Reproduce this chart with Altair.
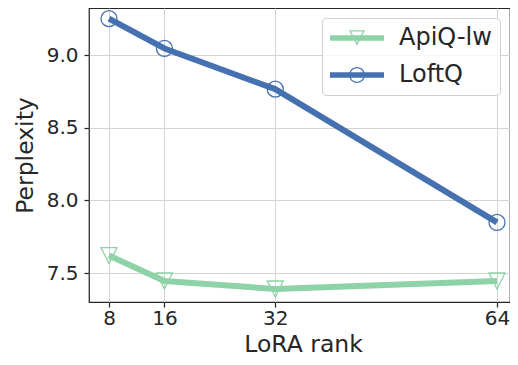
import altair as alt
import pandas as pd

ranks = [8, 16, 32, 64]
apiq_lw = [7.62, 7.445, 7.39, 7.445]
loftq = [9.25, 9.045, 8.765, 7.848]
series_names = ["ApiQ-lw", "LoftQ"]
colors = ["#8dd3a7", "#4571b0"]
x_ticks = [8, 16, 32, 64]
y_ticks = [7.5, 8.0, 8.5, 9.0]

df = pd.DataFrame({
    "rank": ranks * 2,
    "ppl": apiq_lw + loftq,
    "method": [series_names[0]] * len(ranks) + [series_names[1]] * len(ranks),
})

# legend symbols: thick line with a hollow marker on it (unit box -1..1)
leg_tri = ("M-1,-0.105L1,-0.105L1,0.105L-1,0.105Z "
           "M-0.3,-0.29L0.3,-0.29L0,0.29Z "
           "M-0.225,-0.245L0,0.18L0.225,-0.245Z")
leg_circ = ("M-1,-0.105L1,-0.105L1,0.105L-1,0.105Z "
            "M-0.296,0A0.296,0.296 0 1,1 0.296,0A0.296,0.296 0 1,1 -0.296,0Z "
            "M-0.25,0A0.25,0.25 0 1,0 0.25,0A0.25,0.25 0 1,0 -0.25,0Z")

xs = alt.X("rank:Q", scale=alt.Scale(domain=[5.1134, 65.876], nice=False, zero=False),
           axis=alt.Axis(values=x_ticks, title="LoRA rank", format="d", labelPadding=1.8,
                         titleBaseline="alphabetic", titleY=49.3, titleX=214))
ys = alt.Y("ppl:Q", scale=alt.Scale(domain=[7.3005, 9.3234], nice=False, zero=False),
           axis=alt.Axis(values=y_ticks, title="Perplexity", format=".1f", labelPadding=6,
                         titleBaseline="alphabetic", titleX=-57))
color_nolegend = alt.Color("method:N", scale=alt.Scale(domain=series_names, range=colors), legend=None)

base = alt.Chart(df)

lines = base.mark_line(strokeWidth=6, strokeJoin="round").encode(x=xs, y=ys, color=color_nolegend)

tri_pts = base.transform_filter(alt.datum.method == series_names[0]).mark_point(
    shape="M-1,-1L1,-1L0,1Z", filled=False, size=256, strokeWidth=1.3, opacity=1
).encode(x=xs, y=ys, color=color_nolegend)

circ_pts = base.transform_filter(alt.datum.method == series_names[1]).mark_point(
    shape="circle", filled=False, size=256, strokeWidth=1.3, opacity=1
).encode(x=xs, y=ys, color=color_nolegend)

legend_opts = dict(title=None, orient="none", legendX=233, legendY=10,
                   symbolSize=2916, symbolStrokeWidth=0, clipHeight=24,
                   labelFontSize=24, labelColor="#262626", labelFont="DejaVu Sans",
                   labelOffset=15, rowPadding=13, padding=8,
                   fillColor="rgba(255,255,255,0.8)", strokeColor="#d0d0d0",
                   cornerRadius=4)

legend_layer = base.transform_filter(alt.datum.ppl < 0).mark_point(
    filled=True, opacity=1, size=2916, strokeWidth=0
).encode(
    x=xs, y=ys,
    color=alt.Color("method:N", scale=alt.Scale(domain=series_names, range=colors),
                    legend=alt.Legend(**legend_opts)),
    shape=alt.Shape("method:N", scale=alt.Scale(domain=series_names, range=[leg_tri, leg_circ]),
                    legend=alt.Legend(**legend_opts)),
)

chart = alt.layer(lines, tri_pts, circ_pts, legend_layer).resolve_legend(
    color="independent", shape="independent"
).properties(
    width=421, height=294,
    autosize=alt.AutoSizeParams(type="none"),
    padding={"left": 81, "top": 0, "right": 0, "bottom": 55},
).configure_view(
    stroke="#262626", strokeWidth=1.25
).configure_axis(
    domain=False, grid=True, gridColor="#d4d4d4", gridWidth=1,
    tickColor="#262626", tickSize=5, tickWidth=1.25,
    labelFont="DejaVu Sans", labelFontSize=20, labelColor="#262626",
    titleFont="DejaVu Sans", titleFontSize=23.5, titleFontWeight="normal", titleColor="#262626",
)

chart.save("out.html", embed_options={"renderer": "svg", "actions": False})
